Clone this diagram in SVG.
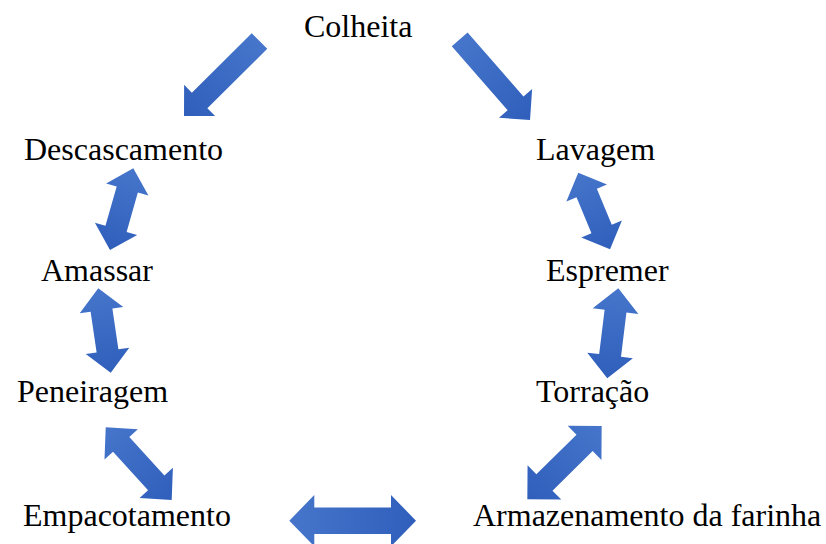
<svg xmlns="http://www.w3.org/2000/svg" width="826" height="544" viewBox="0 0 826 544">
  <style>
    .lbl { font-family: "Liberation Serif", "Times New Roman", serif; font-size: 32px; fill: #000; }
    .arr { fill: url(#g); }
  </style>
  <defs>
    <linearGradient id="g" x1="0" y1="0" x2="1" y2="0">
      <stop offset="0" stop-color="#4675cb"/>
      <stop offset="1" stop-color="#2f5fbb"/>
    </linearGradient>
  </defs>
  <rect width="826" height="544" fill="#fff"/>
  <g id="connectors">
    <polygon class="arr" transform="translate(221.75,78.5) rotate(135.2)" points="-53.2,-11 31.2,-11 31.2,-22 53.2,0 31.2,22 31.2,11 -53.2,11"/>
    <polygon class="arr" transform="translate(494.85,79.65) rotate(48.9)" points="-53.5,-10.5 31.5,-10.5 31.5,-22 53.5,0 31.5,22 31.5,10.5 -53.5,10.5"/>
    <polygon class="arr" transform="translate(121.65,209.15) rotate(105.9)" points="-42.5,0 -20.5,-22 -20.5,-11 20.5,-11 20.5,-22 42.5,0 20.5,22 20.5,11 -20.5,11 -20.5,22"/>
    <polygon class="arr" transform="translate(594.15,211) rotate(67.5)" points="-41.5,0 -19.5,-22 -19.5,-11 19.5,-11 19.5,-22 41.5,0 19.5,22 19.5,11 -19.5,11 -19.5,22"/>
    <polygon class="arr" transform="translate(104.5,330.5) rotate(81.6)" points="-42.6,0 -20.6,-22 -20.6,-11 20.6,-11 20.6,-22 42.6,0 20.6,22 20.6,11 -20.6,11 -20.6,22"/>
    <polygon class="arr" transform="translate(612.8,333.3) rotate(97)" points="-45.3,0 -22.3,-23 -22.3,-11 22.3,-11 22.3,-23 45.3,0 22.3,23 22.3,11 -22.3,11 -22.3,23"/>
    <polygon class="arr" transform="translate(138.7,463.65) rotate(47.8)" points="-49.1,0 -26.1,-22.5 -26.1,-11 26.1,-11 26.1,-22.5 49.1,0 26.1,22.5 26.1,11 -26.1,11 -26.1,22.5"/>
    <polygon class="arr" transform="translate(564.5,462.65) rotate(135.4)" points="-52.2,0 -28.2,-24 -28.2,-11.5 28.2,-11.5 28.2,-24 52.2,0 28.2,24 28.2,11.5 -28.2,11.5 -28.2,24"/>
    <polygon class="arr" transform="translate(352.65,520.7)" points="-63.35,0 -38.35,-25.7 -38.35,-13.3 38.35,-13.3 38.35,-25.7 63.35,0 38.35,25.7 38.35,13.3 -38.35,13.3 -38.35,25.7"/>
  </g>
  <g id="colheita"><text class="lbl" x="304" y="37">Colheita</text></g>
  <g id="descascamento"><text class="lbl" x="24" y="160">Descascamento</text></g>
  <g id="lavagem"><text class="lbl" x="536" y="160">Lavagem</text></g>
  <g id="amassar"><text class="lbl" x="41" y="281">Amassar</text></g>
  <g id="espremer"><text class="lbl" x="546" y="281">Espremer</text></g>
  <g id="peneiragem"><text class="lbl" x="17" y="402">Peneiragem</text></g>
  <g id="torracao"><text class="lbl" x="536" y="402">Torração</text></g>
  <g id="empacotamento"><text class="lbl" x="23" y="526">Empacotamento</text></g>
  <g id="armazenamento"><text class="lbl" x="473" y="526">Armazenamento da farinha</text></g>
</svg>
